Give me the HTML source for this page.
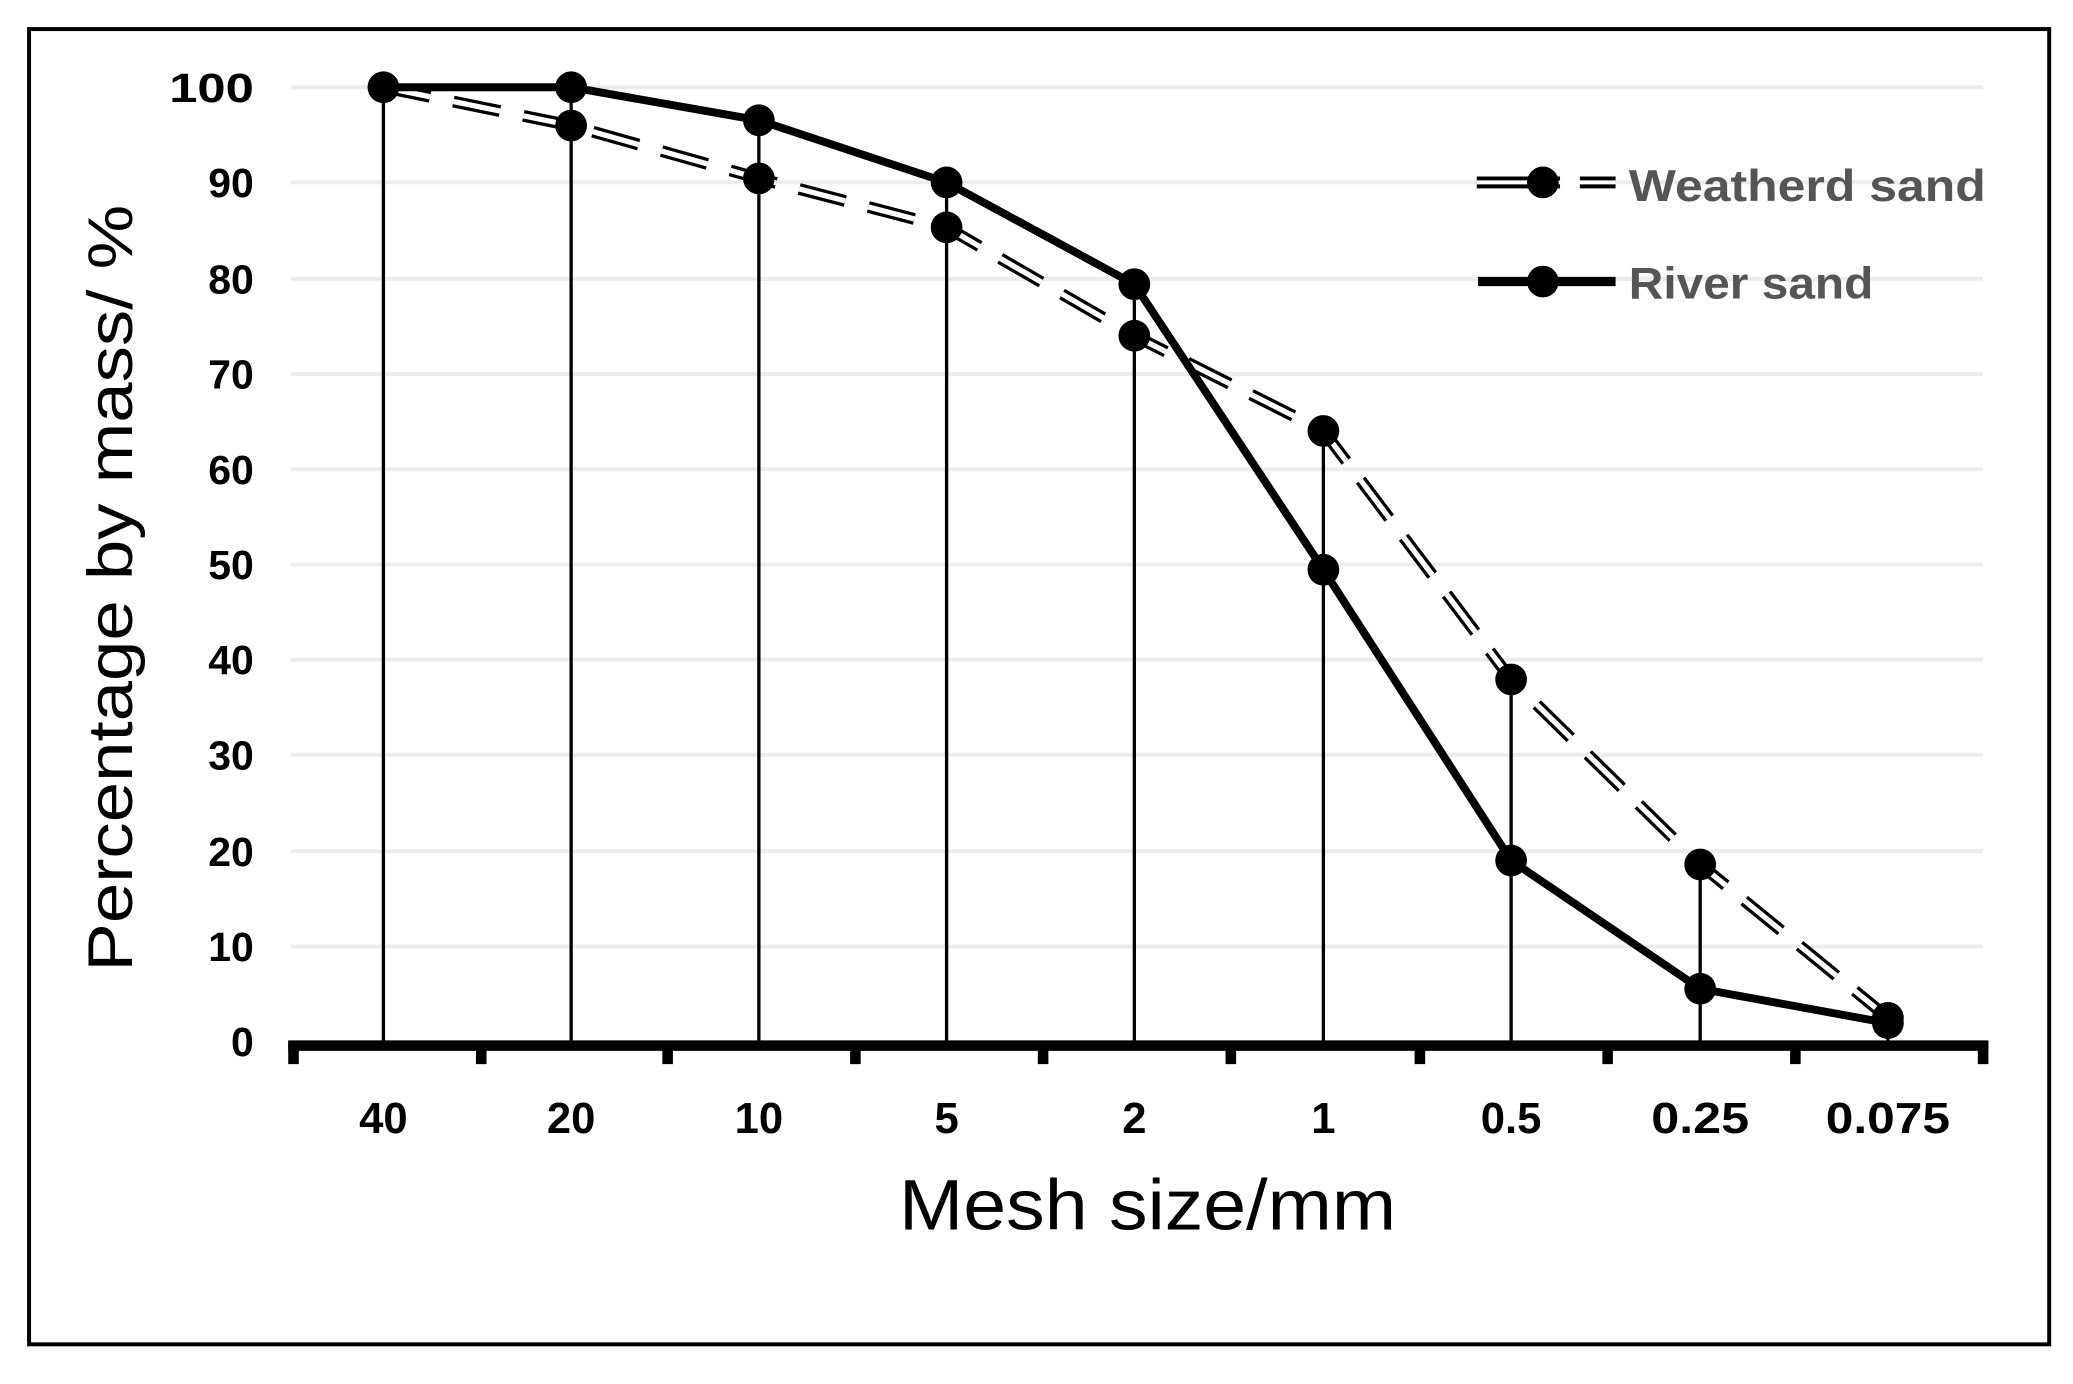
<!DOCTYPE html>
<html><head><style>html,body{margin:0;padding:0;background:#fff}svg{display:block}</style></head>
<body>
<svg width="2073" height="1384" viewBox="0 0 1568 1047" preserveAspectRatio="none" xmlns="http://www.w3.org/2000/svg" font-family="Liberation Sans, sans-serif">
<rect x="0" y="0" width="1568" height="1047" fill="#fff"/>
<rect x="22" y="22" width="1528" height="995" fill="none" stroke="#000" stroke-width="3"/>
<g stroke="#ececec" stroke-width="3">
<line x1="220" x2="1500" y1="66" y2="66"/><line x1="220" x2="1500" y1="138" y2="138"/><line x1="220" x2="1500" y1="211" y2="211"/><line x1="220" x2="1500" y1="283" y2="283"/><line x1="220" x2="1500" y1="355" y2="355"/><line x1="220" x2="1500" y1="427" y2="427"/><line x1="220" x2="1500" y1="499" y2="499"/><line x1="220" x2="1500" y1="571" y2="571"/><line x1="220" x2="1500" y1="644" y2="644"/><line x1="220" x2="1500" y1="716" y2="716"/>
</g>
<g font-size="31" font-weight="bold" text-anchor="end" fill="#000">
<text x="192" y="77" textLength="64" lengthAdjust="spacingAndGlyphs">100</text><text x="192" y="149">90</text><text x="192" y="222">80</text><text x="192" y="294">70</text><text x="192" y="366">60</text><text x="192" y="438">50</text><text x="192" y="510">40</text><text x="192" y="582">30</text><text x="192" y="655">20</text><text x="192" y="727">10</text><text x="192" y="799">0</text>
</g>
<g stroke="#000" stroke-width="2.5">
<line x1="290" x2="290" y1="66" y2="788"/><line x1="432" x2="432" y1="66" y2="788"/><line x1="574" x2="574" y1="91" y2="788"/><line x1="716" x2="716" y1="138" y2="788"/><line x1="858" x2="858" y1="215" y2="788"/><line x1="1001" x2="1001" y1="326" y2="788"/><line x1="1143" x2="1143" y1="514" y2="788"/><line x1="1286" x2="1286" y1="654" y2="788"/><line x1="1428" x2="1428" y1="770" y2="788"/>
</g>
<line x1="218" x2="1504" y1="791" y2="791" stroke="#000" stroke-width="8"/>
<g stroke="#000" stroke-width="8">
<line x1="222" x2="222" y1="788" y2="805"/><line x1="364" x2="364" y1="788" y2="805"/><line x1="505" x2="505" y1="788" y2="805"/><line x1="647" x2="647" y1="788" y2="805"/><line x1="789" x2="789" y1="788" y2="805"/><line x1="931" x2="931" y1="788" y2="805"/><line x1="1074" x2="1074" y1="788" y2="805"/><line x1="1216" x2="1216" y1="788" y2="805"/><line x1="1358" x2="1358" y1="788" y2="805"/><line x1="1500" x2="1500" y1="788" y2="805"/>
</g>
<polyline points="290,66 432,95 574,135 716,172 858,254 1001,326 1143,514 1286,654 1428,770" fill="none" stroke="#000" stroke-width="9" stroke-dasharray="36,18"/>
<polyline points="290,66 432,95 574,135 716,172 858,254 1001,326 1143,514 1286,654 1428,770" fill="none" stroke="#fff" stroke-width="4" stroke-dasharray="36,18"/>
<polyline points="290,66 432,66 574,91 716,138 858,215 1001,431 1143,651 1286,748 1428,774" fill="none" stroke="#000" stroke-width="6"/>
<g fill="#000">
<circle cx="290" cy="66" r="12"/><circle cx="432" cy="95" r="12"/><circle cx="574" cy="135" r="12"/><circle cx="716" cy="172" r="12"/><circle cx="858" cy="254" r="12"/><circle cx="1001" cy="326" r="12"/><circle cx="1143" cy="514" r="12"/><circle cx="1286" cy="654" r="12"/><circle cx="1428" cy="770" r="12"/>
<circle cx="432" cy="66" r="12"/><circle cx="574" cy="91" r="12"/><circle cx="716" cy="138" r="12"/><circle cx="858" cy="215" r="12"/><circle cx="1001" cy="431" r="12"/><circle cx="1143" cy="651" r="12"/><circle cx="1286" cy="748" r="12"/><circle cx="1428" cy="774" r="12"/>
</g>
<g font-size="33" font-weight="bold" text-anchor="middle" fill="#000">
<text x="290" y="857">40</text><text x="432" y="857">20</text><text x="574" y="857">10</text><text x="716" y="857">5</text><text x="858" y="857">2</text><text x="1001" y="857">1</text><text x="1143" y="857">0.5</text><text x="1286" y="857" textLength="74" lengthAdjust="spacingAndGlyphs">0.25</text><text x="1428" y="857" textLength="94" lengthAdjust="spacingAndGlyphs">0.075</text>
</g>
<text x="868" y="930" font-size="54" text-anchor="middle" textLength="376" lengthAdjust="spacingAndGlyphs">Mesh size/mm</text>
<text transform="translate(100,445) rotate(-90)" font-size="48" text-anchor="middle" textLength="580" lengthAdjust="spacingAndGlyphs">Percentage by mass/ %</text>
<line x1="1117" x2="1222" y1="138" y2="138" stroke="#000" stroke-width="9"/>
<line x1="1117" x2="1222" y1="138" y2="138" stroke="#fff" stroke-width="3"/>
<rect x="1180" y="130" width="15" height="16" fill="#fff"/>
<circle cx="1167" cy="138" r="12" fill="#000"/>
<line x1="1118" x2="1222" y1="213" y2="213" stroke="#000" stroke-width="7"/>
<circle cx="1167" cy="213" r="12" fill="#000"/>
<g font-size="34" font-weight="bold" fill="#555">
<text x="1232" y="152" textLength="270" lengthAdjust="spacingAndGlyphs">Weatherd sand</text>
<text x="1232" y="226" textLength="185" lengthAdjust="spacingAndGlyphs">River sand</text>
</g>
</svg>
</body></html>
